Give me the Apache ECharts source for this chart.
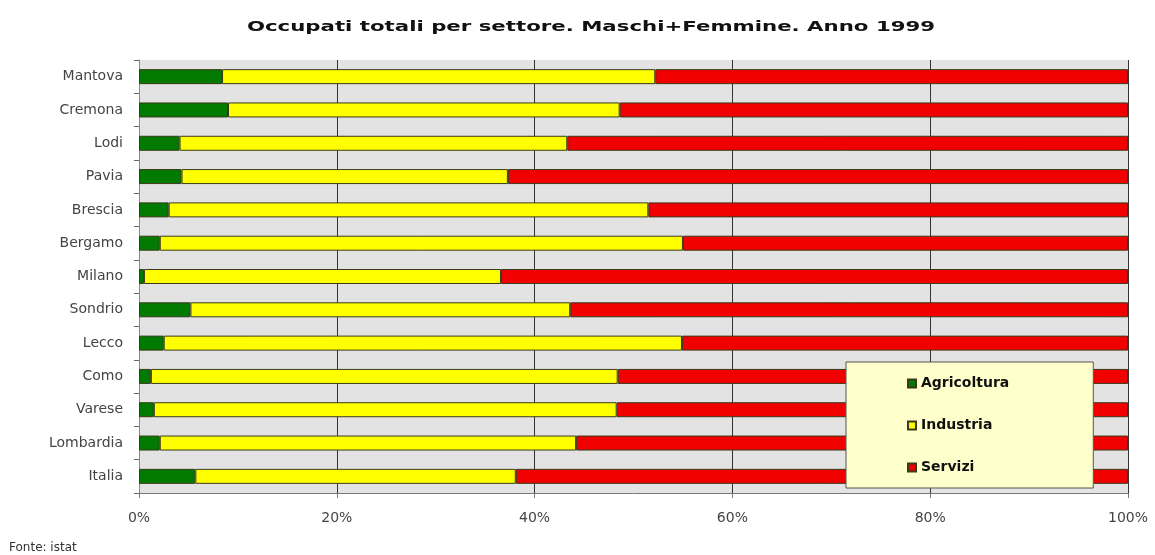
<!DOCTYPE html>
<html>
<head>
<meta charset="utf-8">
<script src="https://cdn.jsdelivr.net/npm/echarts@6/dist/echarts.min.js"></script>
<style>
html,body{margin:0;padding:0;background:#fff;}
#c{width:1155px;height:555px;}
</style>
</head>
<body>
<div id="c"></div>
<script>
const titleText = 'Occupati totali per settore. Maschi+Femmine. Anno 1999';
const sourceText = 'Fonte: istat';
const categories = ['Mantova','Cremona','Lodi','Pavia','Brescia','Bergamo','Milano','Sondrio','Lecco','Como','Varese','Lombardia','Italia'];
const agricoltura = [8.4, 9.0, 4.1, 4.3, 3.0, 2.1, 0.5, 5.2, 2.5, 1.2, 1.5, 2.1, 5.7];
const industria   = [43.8, 39.6, 39.2, 33.0, 48.5, 52.9, 36.1, 38.4, 52.4, 47.2, 46.8, 42.1, 32.4];
const servizi     = [47.8, 51.4, 56.7, 62.7, 48.5, 45.0, 63.4, 56.4, 45.1, 51.6, 51.7, 55.8, 61.9];
const seriesNames = ['Agricoltura','Industria','Servizi'];
const xTicks = [0, 20, 40, 60, 80, 100];

const chart = echarts.init(document.getElementById('c'), null, {renderer:'canvas'});
const font = 'DejaVu Sans, sans-serif';
const barStyle = (color) => ({ color: color, borderColor: '#3a3a1a', borderWidth: 1 });
chart.setOption({
  animation: false,
  backgroundColor: '#ffffff',
  title: [{
    text: sourceText,
    left: 4,
    top: 537,
    textStyle: { fontFamily: font, fontWeight: 'normal', fontSize: 12, color: '#333' }
  }],
  graphic: [{
    type: 'text',
    x: 591, y: 27,
    scaleX: 1.52, scaleY: 1,
    style: {
      text: titleText,
      font: 'bold 14px DejaVu Sans, sans-serif',
      fill: '#111',
      align: 'center',
      verticalAlign: 'middle'
    }
  }],
  grid: {
    left: 139, right: 27, top: 60, bottom: 62,
    show: true, backgroundColor: '#e3e3e3', borderWidth: 0
  },
  legend: {
    orient: 'vertical',
    left: 846, top: 362,
    padding: [14, 84, 13, 61],
    backgroundColor: '#ffffcc',
    borderColor: '#555',
    borderWidth: 1,
    itemWidth: 8, itemHeight: 8,
    itemGap: 27,
    icon: 'rect',
    data: seriesNames,
    textStyle: { fontFamily: font, fontWeight: 'bold', fontSize: 14, color: '#111', lineHeight: 15 }
  },
  xAxis: {
    type: 'value',
    min: xTicks[0], max: xTicks[xTicks.length - 1], interval: 20,
    axisLine: { show: true, lineStyle: { color: '#777', width: 1 } },
    axisTick: { show: true, length: 5, lineStyle: { color: '#777' } },
    axisLabel: { formatter: '{value}%', fontFamily: font, fontSize: 14, color: '#444', margin: 18 },
    splitLine: { show: true, lineStyle: { color: '#333', width: 1 } }
  },
  yAxis: {
    type: 'category',
    inverse: true,
    data: categories,
    axisLine: { show: true, lineStyle: { color: '#888', width: 1 } },
    axisTick: { show: true, length: 5, lineStyle: { color: '#666' } },
    axisLabel: { fontFamily: font, fontSize: 14, color: '#444', margin: 16 },
    splitLine: { show: false }
  },
  series: [
    { name: seriesNames[0], type: 'bar', stack: 'tot', data: agricoltura, barWidth: 15, itemStyle: barStyle('#007a00') },
    { name: seriesNames[1], type: 'bar', stack: 'tot', data: industria, barWidth: 15, itemStyle: barStyle('#ffff00') },
    { name: seriesNames[2], type: 'bar', stack: 'tot', data: servizi, barWidth: 15, itemStyle: barStyle('#f00000') }
  ]
});
</script>
</body>
</html>
